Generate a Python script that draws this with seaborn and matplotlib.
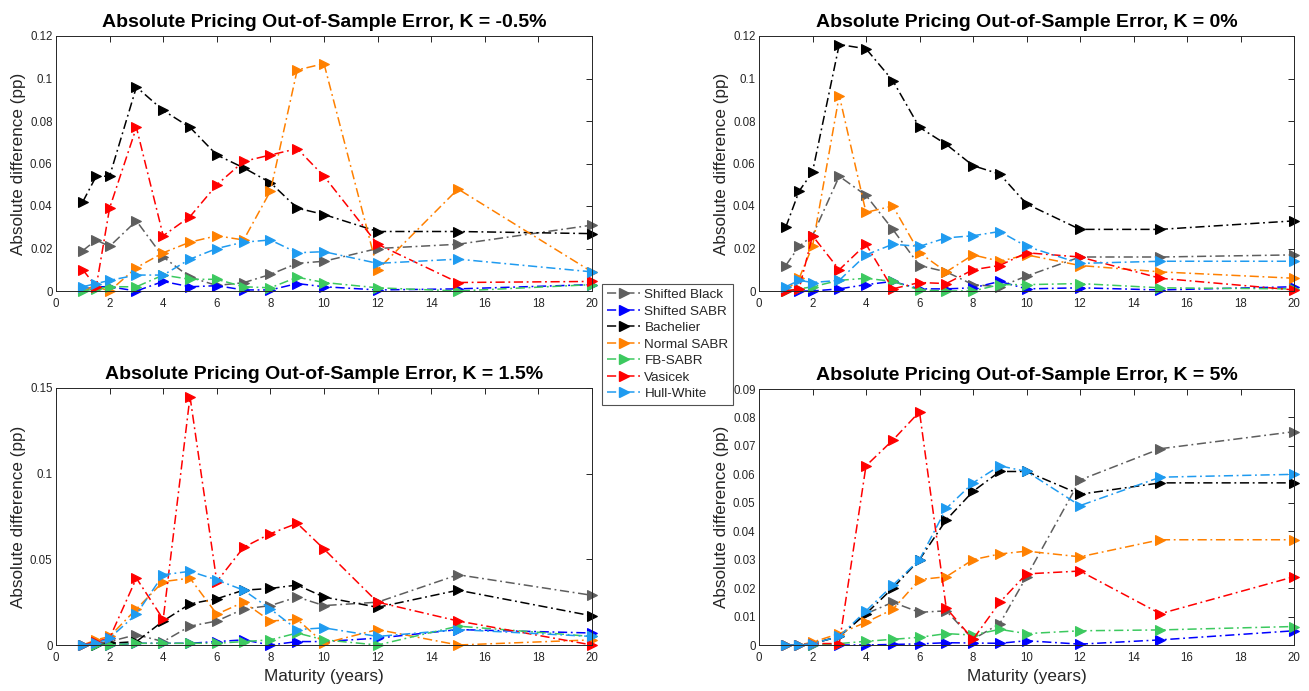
import matplotlib
matplotlib.use("Agg")
import matplotlib.pyplot as plt
import pandas as pd
import seaborn as sns
from matplotlib.lines import Line2D
from matplotlib.ticker import FuncFormatter, MultipleLocator

maturities = [1, 1.5, 2, 3, 4, 5, 6, 7, 8, 9, 10, 12, 15, 20]
models = ["Shifted Black", "Shifted SABR", "Bachelier", "Normal SABR",
          "FB-SABR", "Vasicek", "Hull-White"]
model_colors = ["#5e5e5e", "#0000ff", "#000000", "#ff8000",
                "#3cc95f", "#ff0000", "#1f9bf0"]
strike_labels = ["-0.5%", "0%", "1.5%", "5%"]

# one row per model, in the order of `models`
errors_k_m05 = [
    [0.019, 0.024, 0.021, 0.033, 0.016, 0.0065, 0.0026, 0.0039, 0.0078, 0.013, 0.014, 0.020, 0.022, 0.031],
    [0.001, 0.002, 0.002, 0.000, 0.0045, 0.002, 0.0025, 0.0005, 0.0005, 0.0035, 0.002, 0.0005, 0.001, 0.003],
    [0.042, 0.054, 0.054, 0.096, 0.085, 0.077, 0.064, 0.058, 0.051, 0.039, 0.036, 0.028, 0.028, 0.027],
    [0.001, 0.002, 0.000, 0.011, 0.018, 0.023, 0.026, 0.024, 0.047, 0.104, 0.107, 0.010, 0.048, 0.009],
    [0.000, 0.001, 0.002, 0.002, 0.0075, 0.0055, 0.0055, 0.002, 0.0015, 0.0065, 0.004, 0.0015, 0.000, 0.003],
    [0.010, 0.002, 0.039, 0.077, 0.026, 0.035, 0.050, 0.061, 0.064, 0.067, 0.054, 0.022, 0.004, 0.0045],
    [0.002, 0.0035, 0.005, 0.0075, 0.0075, 0.015, 0.020, 0.023, 0.024, 0.018, 0.0185, 0.013, 0.015, 0.009],
]
errors_k_0 = [
    [0.012, 0.021, 0.026, 0.054, 0.045, 0.029, 0.012, 0.009, 0.003, 0.002, 0.007, 0.016, 0.016, 0.017],
    [0.000, 0.000, 0.000, 0.001, 0.003, 0.0045, 0.001, 0.001, 0.0015, 0.0045, 0.001, 0.0015, 0.0005, 0.002],
    [0.030, 0.047, 0.056, 0.116, 0.114, 0.099, 0.077, 0.069, 0.059, 0.055, 0.041, 0.029, 0.029, 0.033],
    [0.000, 0.006, 0.021, 0.092, 0.037, 0.040, 0.018, 0.009, 0.017, 0.014, 0.017, 0.012, 0.009, 0.006],
    [0.000, 0.001, 0.002, 0.005, 0.006, 0.0045, 0.0005, 0.000, 0.000, 0.003, 0.003, 0.0035, 0.0015, 0.001],
    [0.000, 0.001, 0.026, 0.010, 0.022, 0.001, 0.004, 0.0035, 0.010, 0.012, 0.018, 0.016, 0.006, 0.0005],
    [0.002, 0.005, 0.004, 0.005, 0.017, 0.022, 0.021, 0.025, 0.026, 0.028, 0.021, 0.013, 0.014, 0.014],
]
errors_k_15 = [
    [0.000, 0.001, 0.002, 0.006, 0.002, 0.011, 0.014, 0.021, 0.023, 0.028, 0.023, 0.025, 0.041, 0.029],
    [0.000, 0.000, 0.000, 0.001, 0.001, 0.001, 0.002, 0.003, 0.000, 0.002, 0.002, 0.004, 0.009, 0.007],
    [0.000, 0.000, 0.001, 0.002, 0.014, 0.024, 0.027, 0.032, 0.033, 0.035, 0.028, 0.022, 0.032, 0.017],
    [0.000, 0.003, 0.005, 0.021, 0.037, 0.039, 0.018, 0.025, 0.014, 0.015, 0.001, 0.009, 0.000, 0.003],
    [0.000, 0.000, 0.000, 0.001, 0.001, 0.001, 0.001, 0.002, 0.003, 0.007, 0.003, 0.000, 0.011, 0.005],
    [0.000, 0.002, 0.004, 0.039, 0.015, 0.145, 0.037, 0.057, 0.065, 0.071, 0.056, 0.025, 0.014, 0.000],
    [0.000, 0.001, 0.004, 0.018, 0.041, 0.043, 0.038, 0.032, 0.021, 0.009, 0.010, 0.005, 0.009, 0.005],
]
errors_k_5 = [
    [0.000, 0.000, 0.0005, 0.003, 0.011, 0.015, 0.0115, 0.012, 0.002, 0.0075, 0.024, 0.058, 0.069, 0.075],
    [0.000, 0.000, 0.000, 0.000, 0.000, 0.0002, 0.0004, 0.0008, 0.0007, 0.0006, 0.0015, 0.0003, 0.0018, 0.005],
    [0.000, 0.000, 0.0005, 0.003, 0.011, 0.020, 0.030, 0.044, 0.054, 0.061, 0.061, 0.053, 0.057, 0.057],
    [0.000, 0.000, 0.001, 0.004, 0.008, 0.0125, 0.023, 0.024, 0.030, 0.032, 0.033, 0.031, 0.037, 0.037],
    [0.000, 0.000, 0.000, 0.0005, 0.0013, 0.002, 0.0027, 0.004, 0.0035, 0.0055, 0.004, 0.005, 0.0053, 0.0065],
    [0.000, 0.000, 0.0005, 0.0005, 0.063, 0.072, 0.082, 0.013, 0.002, 0.015, 0.025, 0.026, 0.011, 0.024],
    [0.000, 0.000, 0.0005, 0.003, 0.012, 0.021, 0.030, 0.048, 0.057, 0.063, 0.061, 0.049, 0.059, 0.060],
]
panel_errors = [errors_k_m05, errors_k_0, errors_k_15, errors_k_5]
y_limits = [0.12, 0.12, 0.15, 0.09]
y_steps = [0.02, 0.02, 0.05, 0.01]

sns.set_theme(style="white")
plt.rcParams["font.family"] = ["Liberation Sans", "DejaVu Sans"]

W, H = 1309, 691
fig = plt.figure(figsize=(W / 100, H / 100), dpi=100)

axis_color = "#262626"
line_dashes = (6.0, 2.4, 1.2, 2.4)
panel_boxes = [  # left, top, right, bottom in pixels
    (56, 36, 592, 291),
    (759, 36, 1294, 291),
    (56, 388, 592, 645),
    (759, 389, 1294, 645),
]

tick_fmt = FuncFormatter(lambda v, _: "%g" % round(v, 4))

for i, (errs, (l, t, r, b)) in enumerate(zip(panel_errors, panel_boxes)):
    ax = fig.add_axes([l / W, 1 - b / H, (r - l) / W, (b - t) / H])
    for name, vals, col in zip(models, errs, model_colors):
        df = pd.DataFrame({"Maturity": maturities, "Error": vals})
        sns.lineplot(data=df, x="Maturity", y="Error", ax=ax, color=col,
                     errorbar=None, legend=False, linewidth=1.1,
                     marker=">", markersize=6.8, markeredgecolor=col,
                     markerfacecolor=col, clip_on=False)
        ax.lines[-1].set_dashes(line_dashes)
    ax.set_xlim(0, 20)
    ax.set_ylim(0, y_limits[i])
    ax.xaxis.set_major_locator(MultipleLocator(2))
    ax.yaxis.set_major_locator(MultipleLocator(y_steps[i]))
    ax.xaxis.set_major_formatter(tick_fmt)
    ax.yaxis.set_major_formatter(tick_fmt)
    ax.tick_params(direction="in", top=True, right=True, length=4.5,
                   width=0.7, colors=axis_color, labelsize=8.3)
    ax.tick_params(axis="x", pad=5)
    ax.tick_params(axis="y", pad=2.5)
    for sp in ax.spines.values():
        sp.set_color(axis_color)
        sp.set_linewidth(0.7)
    ax.set_title(f"Absolute Pricing Out-of-Sample Error, K = {strike_labels[i]}",
                 fontsize=14, fontweight="bold", color="black", pad=6.5)
    ax.set_ylabel("Absolute difference (pp)", fontsize=12.3, color=axis_color,
                  labelpad=3)
    if i >= 2:
        ax.set_xlabel("Maturity (years)", fontsize=12.3, color=axis_color,
                      labelpad=4)
    else:
        ax.set_xlabel("")

handles = [Line2D([], [], color=c, linewidth=1.1, dashes=line_dashes,
                  marker=">", markersize=6.8, markerfacecolor=c,
                  markeredgecolor=c)
           for c in model_colors]
leg = fig.legend(handles, models, loc="upper left",
                 bbox_to_anchor=(602 / W, 1 - 284 / H), borderaxespad=0,
                 fontsize=9.7, frameon=True, fancybox=False, handlelength=2.5,
                 labelspacing=0.3, borderpad=0.35, handletextpad=0.3)
leg.get_frame().set_edgecolor(axis_color)
leg.get_frame().set_linewidth(0.8)

fig.savefig("out.png", dpi=100, facecolor="white")
